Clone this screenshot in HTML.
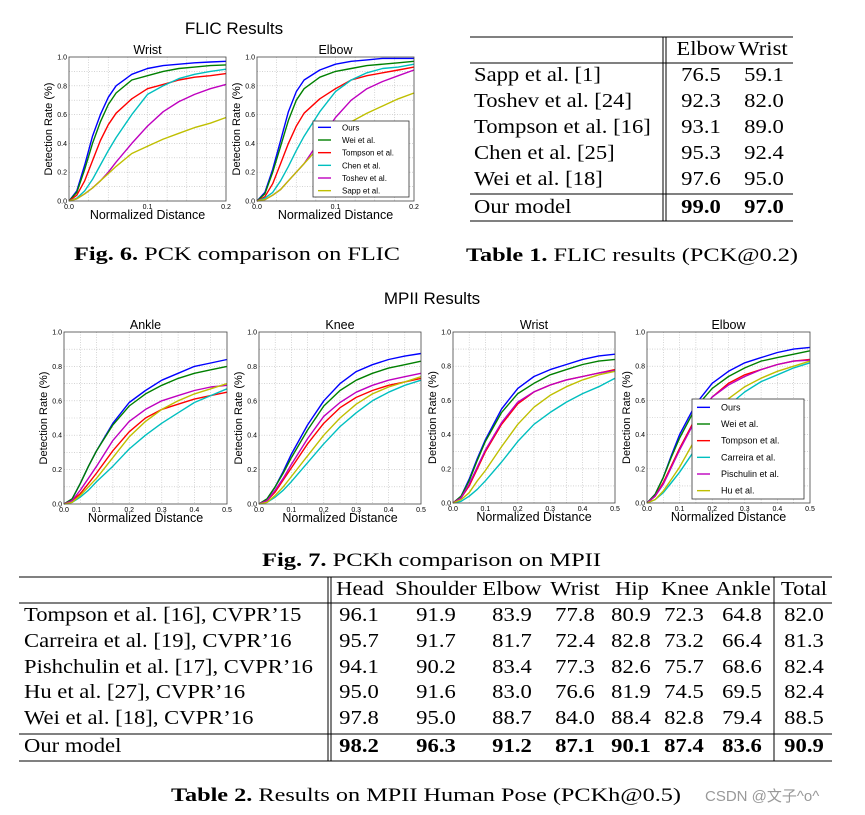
<!DOCTYPE html>
<html><head><meta charset="utf-8"><style>
html,body{margin:0;padding:0;background:#fff;}
svg{display:block;}
.s{font-family:"Liberation Serif",serif;fill:#000;}
.a{font-family:"Liberation Sans","DejaVu Sans",sans-serif;fill:#000;}
</style></head><body>
<svg id="page" width="865" height="815" viewBox="0 0 865 815" xmlns="http://www.w3.org/2000/svg">
<text class="a" x="234" y="34" font-size="17" text-anchor="middle">FLIC Results</text>
<text class="a" x="432" y="304" font-size="17" text-anchor="middle">MPII Results</text>
<g id="charts"></g>
<text class="s" x="74" y="260" font-size="19" textLength="326" lengthAdjust="spacingAndGlyphs"><tspan font-weight="bold">Fig. 6.</tspan> PCK comparison on FLIC</text>
<text class="s" x="466" y="261" font-size="19" textLength="332" lengthAdjust="spacingAndGlyphs"><tspan font-weight="bold">Table 1.</tspan> FLIC results (PCK@0.2)</text>
<text class="s" x="262" y="566" font-size="19" textLength="339" lengthAdjust="spacingAndGlyphs"><tspan font-weight="bold">Fig. 7.</tspan> PCKh comparison on MPII</text>
<text class="s" x="171" y="801" font-size="19" textLength="510" lengthAdjust="spacingAndGlyphs"><tspan font-weight="bold">Table 2.</tspan> Results on MPII Human Pose (PCKh@0.5)</text>
<text x="705" y="801" font-size="15" fill="#999" font-family="Liberation Sans,'Noto Sans CJK SC',sans-serif">CSDN @文子^o^</text>
<g id="t1"></g>
<g id="t2"></g>
</svg>
<script>
const NS="http://www.w3.org/2000/svg";
function mk(tag,attrs,parent,txt){const e=document.createElementNS(NS,tag);for(const k in attrs)e.setAttribute(k,attrs[k]);if(txt!==undefined)e.textContent=txt;parent.appendChild(e);return e;}
const COLORS=["#0000ff","#008000","#ff0000","#00bfbf","#bf00bf","#bfbf00"];
const flicX=[0,0.01,0.02,0.03,0.04,0.05,0.06,0.08,0.1,0.12,0.14,0.16,0.18,0.2];
const flicNames=["Ours","Wei et al.","Tompson et al.","Chen et al.","Toshev et al.","Sapp et al."];
const flicWristOurs=[0,.07,.25,.45,.6,.72,.8,.88,.92,.94,.95,.96,.965,.97];
const flicWristWei=[0,.06,.22,.4,.55,.67,.75,.84,.87,.9,.92,.93,.94,.945];
const flicWristTompson=[0,.04,.14,.28,.42,.53,.61,.71,.78,.81,.84,.86,.87,.885];
const flicWristChen=[0,.02,.07,.15,.25,.35,.44,.6,.74,.8,.85,.88,.9,.915];
const flicWristToshev=[0,.015,.05,.09,.14,.2,.27,.4,.52,.62,.69,.74,.78,.81];
const flicWristSapp=[0,.015,.05,.09,.14,.19,.24,.33,.38,.43,.47,.51,.54,.58];
const flicElbowOurs=[0,.06,.22,.42,.62,.76,.84,.91,.95,.97,.98,.99,.99,.99];
const flicElbowWei=[0,.05,.2,.38,.56,.7,.78,.86,.9,.92,.94,.95,.96,.97];
const flicElbowTompson=[0,.03,.12,.26,.4,.52,.61,.71,.78,.84,.87,.89,.91,.93];
const flicElbowChen=[0,.02,.06,.14,.24,.35,.45,.62,.76,.84,.89,.92,.93,.95];
const flicElbowToshev=[0,.01,.04,.08,.14,.2,.26,.42,.58,.7,.78,.83,.87,.91];
const flicElbowSapp=[0,.01,.04,.08,.14,.2,.26,.38,.48,.55,.61,.66,.71,.75];
const mpiiX=[0,.025,.05,.075,.1,.15,.2,.25,.3,.35,.4,.45,.5];
const mpiiNames=["Ours","Wei et al.","Tompson et al.","Carreira et al.","Pischulin et al.","Hu et al."];
const ankleOurs=[0,.03,.12,.22,.31,.47,.59,.66,.72,.76,.8,.82,.84];
const ankleWei=[0,.03,.12,.22,.31,.46,.57,.64,.69,.73,.76,.78,.8];
const ankleTompson=[0,.02,.06,.12,.18,.31,.42,.5,.55,.58,.61,.63,.65];
const ankleCarreira=[0,.01,.04,.08,.13,.22,.32,.4,.47,.53,.59,.63,.67];
const anklePischulin=[0,.02,.08,.15,.22,.37,.48,.55,.6,.63,.66,.68,.69];
const ankleHu=[0,.01,.05,.1,.15,.27,.39,.48,.55,.6,.64,.67,.7];
const kneeOurs=[0,.03,.1,.19,.29,.46,.6,.7,.77,.81,.84,.86,.875];
const kneeWei=[0,.03,.1,.18,.27,.43,.57,.66,.72,.76,.79,.81,.83];
const kneeTompson=[0,.02,.07,.14,.21,.35,.47,.56,.62,.66,.69,.71,.73];
const kneeCarreira=[0,.01,.04,.08,.13,.24,.35,.45,.53,.6,.65,.69,.72];
const kneePischulin=[0,.02,.08,.15,.23,.38,.51,.59,.65,.69,.72,.74,.76];
const kneeHu=[0,.01,.05,.1,.16,.28,.4,.5,.58,.64,.68,.71,.74];
const wristOurs=[0,.04,.14,.26,.37,.55,.67,.74,.78,.81,.84,.86,.87];
const wristWei=[0,.04,.13,.25,.36,.53,.64,.7,.75,.78,.81,.83,.84];
const wristTompson=[0,.03,.1,.2,.3,.46,.58,.65,.69,.72,.74,.76,.78];
const wristCarreira=[0,.01,.04,.08,.13,.24,.36,.46,.53,.59,.64,.68,.73];
const wristPischulin=[0,.03,.11,.21,.31,.47,.59,.65,.69,.72,.74,.76,.775];
const wristHu=[0,.02,.06,.13,.19,.33,.46,.56,.63,.68,.72,.75,.77];
const elbowOurs=[0,.05,.15,.28,.4,.58,.7,.77,.82,.85,.88,.9,.91];
const elbowWei=[0,.05,.15,.27,.38,.56,.67,.74,.79,.83,.85,.87,.89];
const elbowTompson=[0,.04,.12,.22,.32,.5,.62,.7,.75,.78,.81,.83,.84];
const elbowCarreira=[0,.02,.06,.12,.18,.32,.45,.57,.65,.71,.75,.79,.82];
const elbowPischulin=[0,.04,.11,.21,.31,.49,.62,.69,.74,.78,.81,.83,.835];
const elbowHu=[0,.02,.07,.14,.21,.38,.51,.61,.68,.73,.77,.8,.83];
const flicTicks=["0.0","0.1","0.2"];
const mpiiTicks=["0.0","0.1","0.2","0.3","0.4","0.5"];
const yTicks=["0.0","0.2","0.4","0.6","0.8","1.0"];

const root=document.getElementById("charts");
function chart(id,title,b,xmax,xs,series,xticks,grids,legend,names){
  const g=mk("g",{},root);
  
  
  const X=v=>b.x0+(b.x1-b.x0)*v/xmax, Y=v=>b.y1-(b.y1-b.y0)*v;
  for(let i=1;i<grids;i++){const gx=X(xmax*i/grids);mk("line",{x1:gx,x2:gx,y1:b.y0,y2:b.y1,stroke:"#bbb","stroke-width":0.6,"stroke-dasharray":"1,1.5"},g);}
  for(let i=1;i<10;i++){const gy=Y(i/10);mk("line",{x1:b.x0,x2:b.x1,y1:gy,y2:gy,stroke:"#bbb","stroke-width":0.6,"stroke-dasharray":"1,1.5"},g);}
  series.forEach((s,k)=>{
    const p=mk("polyline",{points:s.map((v,i)=>X(xs[i]).toFixed(1)+","+Y(v).toFixed(1)).join(" "),fill:"none",stroke:COLORS[k],"stroke-width":1.4,"stroke-linejoin":"round"},g);
    
    
  });
  mk("rect",{x:b.x0,y:b.y0,width:b.x1-b.x0,height:b.y1-b.y0,fill:"none",stroke:"#444","stroke-width":0.8},g);
  xticks.forEach((t,i)=>{const tx=X(parseFloat(t));mk("text",{class:"a",x:tx,y:b.y1+8,"font-size":7,"text-anchor":"middle",fill:"#333"},g,t);});
  yTicks.forEach(t=>{mk("text",{class:"a",x:b.x0-2,y:Y(parseFloat(t))+2.5,"font-size":7,"text-anchor":"end",fill:"#333"},g,t);});
  const tt=mk("text",{class:"a",x:(b.x0+b.x1)/2,y:b.y0-3,"font-size":12.5,"text-anchor":"middle"},g,title);
  
  
  const xl=mk("text",{class:"a",x:(b.x0+b.x1)/2,y:b.y1+18,"font-size":12.5,"text-anchor":"middle"},g,"Normalized Distance");
  
  
  const cy=(b.y0+b.y1)/2, cx=b.x0-17;
  const yl=mk("text",{class:"a",x:cx,y:cy,"font-size":11,"text-anchor":"middle",transform:`rotate(-90 ${cx} ${cy})`},g,"Detection Rate (%)");
  
  
  if(legend){
    const L=mk("g",{},g);
    
    
    mk("rect",{x:legend.x,y:legend.y,width:legend.w,height:legend.h,fill:"#fff",stroke:"#333","stroke-width":0.8},L);
    const step=legend.h/6;
    names.forEach((n,k)=>{
      const ly=legend.y+step*(k+0.5);
      const e=mk("g",{},L);
      
      
      mk("line",{x1:legend.x+5,x2:legend.x+18,y1:ly,y2:ly,stroke:COLORS[k],"stroke-width":1.4},e);
      mk("text",{class:"a",x:legend.x+29,y:ly+3,"font-size":legend.fs},e,n);
    });
  }
}
chart("flic-wrist-chart","Wrist",{x0:69,x1:226,y0:57,y1:201},0.2,flicX,[flicWristOurs,flicWristWei,flicWristTompson,flicWristChen,flicWristToshev,flicWristSapp],flicTicks,8,null,flicNames);
chart("flic-elbow-chart","Elbow",{x0:257,x1:414,y0:57,y1:201},0.2,flicX,[flicElbowOurs,flicElbowWei,flicElbowTompson,flicElbowChen,flicElbowToshev,flicElbowSapp],flicTicks,8,{x:313,y:121,w:96,h:76,fs:8},flicNames);
chart("mpii-ankle-chart","Ankle",{x0:64,x1:227,y0:332,y1:504},0.5,mpiiX,[ankleOurs,ankleWei,ankleTompson,ankleCarreira,anklePischulin,ankleHu],mpiiTicks,10,null,mpiiNames);
chart("mpii-knee-chart","Knee",{x0:259,x1:421,y0:332,y1:504},0.5,mpiiX,[kneeOurs,kneeWei,kneeTompson,kneeCarreira,kneePischulin,kneeHu],mpiiTicks,10,null,mpiiNames);
chart("mpii-wrist-chart","Wrist",{x0:453,x1:615,y0:332,y1:503},0.5,mpiiX,[wristOurs,wristWei,wristTompson,wristCarreira,wristPischulin,wristHu],mpiiTicks,10,null,mpiiNames);
chart("mpii-elbow-chart","Elbow",{x0:647,x1:810,y0:332,y1:503},0.5,mpiiX,[elbowOurs,elbowWei,elbowTompson,elbowCarreira,elbowPischulin,elbowHu],mpiiTicks,10,{x:692,y:399,w:112,h:100,fs:9},mpiiNames);

const WIDEN=1.16;
function widen(t){const w=t.getComputedTextLength();t.setAttribute("textLength",(w*WIDEN).toFixed(1));t.setAttribute("lengthAdjust","spacingAndGlyphs");}
// Table 1
const t1=document.getElementById("t1");
function L(p,x1,y1,x2,y2,w){mk("line",{x1,y1,x2,y2,stroke:"#000","stroke-width":w||1},p);}
L(t1,470,37,793,37);L(t1,470,63,793,63);L(t1,470,194,793,194);L(t1,470,221,793,221);
L(t1,663,37,663,221);L(t1,666,37,666,221);
widen(mk("text",{class:"s",x:706,y:55,"font-size":19.5,"text-anchor":"middle"},t1,"Elbow"));
widen(mk("text",{class:"s",x:763,y:55,"font-size":19.5,"text-anchor":"middle"},t1,"Wrist"));
const t1Rows=[["Sapp et al. [1]","76.5","59.1"],["Toshev et al. [24]","92.3","82.0"],["Tompson et al. [16]","93.1","89.0"],["Chen et al. [25]","95.3","92.4"],["Wei et al. [18]","97.6","95.0"],["Our model","99.0","97.0"]];
const t1Y=[81,107,133,159,185,213];
t1Rows.forEach((r,i)=>{
  const g=mk("g",{},t1);
  
  
  const bold=i===5?{"font-weight":"bold"}:{};
  widen(mk("text",{class:"s",x:474,y:t1Y[i],"font-size":19.5},g,r[0]));
  widen(mk("text",Object.assign({class:"s",x:701,y:t1Y[i],"font-size":19.5,"text-anchor":"middle"},bold),g,r[1]));
  widen(mk("text",Object.assign({class:"s",x:764,y:t1Y[i],"font-size":19.5,"text-anchor":"middle"},bold),g,r[2]));
});
// Table 2
const t2=document.getElementById("t2");
L(t2,19,577,832,577);L(t2,19,603,832,603);L(t2,19,734,832,734);L(t2,19,761,832,761);
L(t2,328,577,328,761);L(t2,331,577,331,761);L(t2,774,577,774,761);
const hdr=["Head","Shoulder","Elbow","Wrist","Hip","Knee","Ankle","Total"];
const hx=[360,436,512,575,632,685,743,804];
const vx=[359,436,512,575,631,684,742,804];
hdr.forEach((h,i)=>widen(mk("text",{class:"s",x:hx[i],y:595,"font-size":19.5,"text-anchor":"middle"},t2,h)));
const t2Rows=[["Tompson et al. [16], CVPR’15","96.1","91.9","83.9","77.8","80.9","72.3","64.8","82.0"],
["Carreira et al. [19], CVPR’16","95.7","91.7","81.7","72.4","82.8","73.2","66.4","81.3"],
["Pishchulin et al. [17], CVPR’16","94.1","90.2","83.4","77.3","82.6","75.7","68.6","82.4"],
["Hu et al. [27], CVPR’16","95.0","91.6","83.0","76.6","81.9","74.5","69.5","82.4"],
["Wei et al. [18], CVPR’16","97.8","95.0","88.7","84.0","88.4","82.8","79.4","88.5"],
["Our model","98.2","96.3","91.2","87.1","90.1","87.4","83.6","90.9"]];
const t2Y=[621,647,673,698,724,752];
t2Rows.forEach((r,i)=>{
  const g=mk("g",{},t2);
  
  
  widen(mk("text",{class:"s",x:24,y:t2Y[i],"font-size":19.5},g,r[0]));
  for(let j=1;j<9;j++){
    const a={class:"s",x:vx[j-1],y:t2Y[i],"font-size":19.5,"text-anchor":"middle"};
    if(i===5)a["font-weight"]="bold";
    widen(mk("text",a,g,r[j]));
  }
});
</script>
</body></html>
